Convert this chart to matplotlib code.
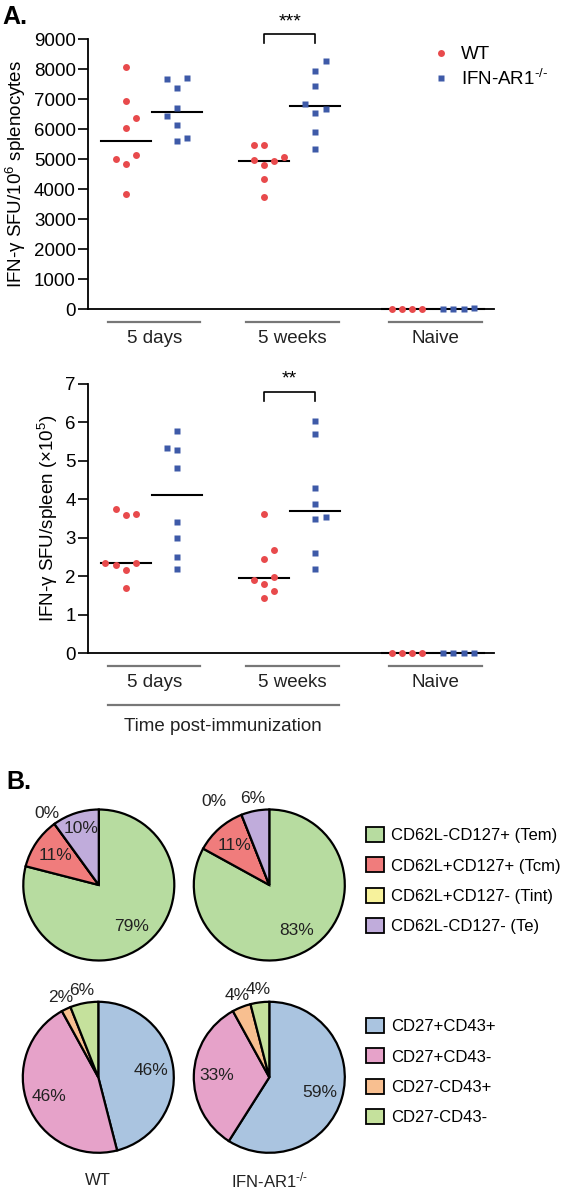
#!/usr/bin/env python3
"""Figure: IFN-gamma ELISPOT dot plots (A) and memory-subset pies (B)."""

import matplotlib
matplotlib.use("Agg")
import matplotlib.pyplot as plt
import matplotlib.transforms as mtransforms
from matplotlib.lines import Line2D
from matplotlib.patches import Patch
import numpy as np

plt.rcParams.update({
    "font.family": ["Liberation Sans", "DejaVu Sans"],
    "mathtext.fontset": "custom",
    "mathtext.rm": "Liberation Sans",
    "mathtext.it": "Liberation Sans:italic",
    "mathtext.bf": "Liberation Sans:bold",
})

W, H = 566, 1193
DPI = 100

# ---- panel A data ----------------------------------------------------------
GROUPS = ["5 days", "5 weeks", "Naive"]

# SFU / 10^6 splenocytes
WT_SPLENO = [
    [8057, 6947, 6381, 6048, 5138, 5005, 4838, 3840],
    [5471, 5471, 4971, 4794, 4927, 5071, 4328, 3751],
    [0, 0, 0, 0],
]
KO_SPLENO = [
    [7668, 7701, 7368, 6703, 6447, 6137, 5604, 5704],
    [8267, 7945, 7446, 6847, 6658, 6547, 5892, 5338],
    [0, 0, 0, 40],
]

# SFU / spleen (x10^5)
WT_SPLEEN = [
    [3.74, 3.60, 3.63, 2.35, 2.30, 2.34, 2.17, 1.71],
    [3.63, 2.68, 2.45, 1.99, 1.90, 1.81, 1.63, 1.45],
    [0, 0, 0, 0],
]
KO_SPLEEN = [
    [5.77, 5.33, 5.28, 4.81, 3.40, 3.01, 2.50, 2.18],
    [6.03, 5.70, 4.30, 3.87, 3.49, 3.53, 2.61, 2.18],
    [0, 0, 0, 0.02],
]

# horizontal scatter columns (in dot widths) -- layout only
WT_SPLENO_COL = [[0, 0, 1, 0, 1, -1, 0, 0], [-1, 0, -1, 0, 1, 2, 0, 0], [-1.5, -0.5, 0.5, 1.5]]
KO_SPLENO_COL = [[-1, 1, 0, 0, -1, 0, 0, 1], [1, 0, 0, -1, 1, 0, 0, 0], [-1.5, -0.5, 0.5, 1.5]]
WT_SPLEEN_COL = [[-1, 0, 1, -2, -1, 1, 0, 0], [0, 1, 0, 1, -1, 0, 1, 0], [-1.5, -0.5, 0.5, 1.5]]
KO_SPLEEN_COL = [[0, -1, 0, 0, 0, 0, 0, 0], [0, 0, 0, 0, 0, 1, 0, 0], [-1.5, -0.5, 0.5, 1.5]]

# ---- panel B data ----------------------------------------------------------
MEM_LABELS = ["CD62L-CD127+ (Tem)", "CD62L+CD127+ (Tcm)",
              "CD62L+CD127- (Tint)", "CD62L-CD127- (Te)"]
MEM_WT = [79, 11, 0, 10]
MEM_KO = [83, 11, 0, 6]
MEM_COLORS = ["#b7dca0", "#f07c7c", "#f7f29c", "#c0acdb"]

CD_LABELS = ["CD27+CD43+", "CD27+CD43-", "CD27-CD43+", "CD27-CD43-"]
CD_WT = [46, 46, 2, 6]
CD_KO = [59, 33, 4, 4]
CD_COLORS = ["#aac4e0", "#e6a2c9", "#f8bf90", "#c5e19c"]

WT_COLOR = "#e84a4c"
KO_COLOR = "#3e5aa8"
UNDERLINE = "#777777"

GROUP_X = [2.5, 16.05, 30.1]   # pair centres, in dot widths
PAIR_HALF = 2.52
XLIM = (-3.7, 36.1)
KO_LABEL = r"IFN-AR1$^{\text{-/-}}$"


def px_axes(left, top, right, bottom):
    return [left / W, 1 - bottom / H, (right - left) / W, (bottom - top) / H]


def dot_panel(fig, rect, wt, ko, wt_col, ko_col, yticks, sig, sig_y, ylabel):
    ax = fig.add_axes(rect)
    for i, gx in enumerate(GROUP_X):
        for vals, cols, dx, color, mk, ms in (
            (wt[i], wt_col[i], -PAIR_HALF, WT_COLOR, "o", 5.0),
            (ko[i], ko_col[i], PAIR_HALF, KO_COLOR, "s", 4.6),
        ):
            x = gx + dx + np.array(cols)
            ax.plot(x, vals, ls="none", marker=mk, ms=ms, mfc=color, mec="none",
                    clip_on=False, zorder=4)
            med = np.median(vals)
            ax.plot([gx + dx - 2.45, gx + dx + 2.45], [med, med], color="black",
                    lw=1.5, clip_on=False, zorder=3)

    ax.set_xlim(*XLIM)
    ax.set_ylim(yticks[0], yticks[-1])
    ax.set_xticks([])
    ax.set_yticks(yticks)
    ax.spines["top"].set_visible(False)
    ax.spines["right"].set_visible(False)
    ax.spines["left"].set_linewidth(1.3)
    ax.spines["bottom"].set_linewidth(1.3)
    ax.tick_params(axis="y", length=7, width=1.2, pad=2, labelsize=13.5)
    ax.set_ylabel(ylabel, fontsize=13.5, labelpad=4)

    # significance bracket over 5 weeks
    gx = GROUP_X[1]
    top, leg, star_y = sig_y
    ax.plot([gx - PAIR_HALF, gx - PAIR_HALF, gx + PAIR_HALF, gx + PAIR_HALF],
            [leg, top, top, leg], color="black", lw=1.2, clip_on=False)
    ax.text(gx, star_y, sig, ha="center", va="center", fontsize=14, clip_on=False)

    # group underlines + labels
    trans = mtransforms.blended_transform_factory(ax.transData, ax.transAxes)
    for gx, name in zip(GROUP_X, GROUPS):
        c = gx + 0.27
        ax.plot([c - 4.53, c + 4.53], [-0.048, -0.048], color=UNDERLINE, lw=1.6,
                transform=trans, clip_on=False)
        ax.text(c, -0.108, name, ha="center", va="center", fontsize=13.5,
                color="#222222", transform=trans)
    return ax, trans


def pie_panel(fig, cx, cy, values, colors, nudge=None):
    r = 75.5
    ax = fig.add_axes(px_axes(cx - r, cy - r, cx + r, cy + r))
    wedges, _ = ax.pie(values, colors=colors, startangle=90, counterclock=False,
                       radius=1, wedgeprops={"edgecolor": "black", "linewidth": 1.6})
    for i, (w, v) in enumerate(zip(wedges, values)):
        ang = (w.theta1 + w.theta2) / 2
        dist = 0.7 if v >= 10 else 1.17
        if v == 10:
            dist = 0.78
        if nudge and i in nudge:
            ang += nudge[i][0]
            dist = nudge[i][1]
        a = np.deg2rad(ang)
        ax.text(dist * np.cos(a), dist * np.sin(a), f"{v}%", ha="center",
                va="center", fontsize=12.5, color="#222222")
    ax.set_xlim(-1, 1)
    ax.set_ylim(-1, 1)
    ax.set_aspect("equal")
    ax.axis("off")
    return ax


def main():
    fig = plt.figure(figsize=(W / DPI, H / DPI), dpi=DPI)

    ax1, _ = dot_panel(fig, px_axes(88.3, 39, 494, 309.3), WT_SPLENO, KO_SPLENO,
                       WT_SPLENO_COL, KO_SPLENO_COL, np.arange(0, 9001, 1000), "***",
                       (9177, 8867, 9560),
                       "IFN-γ SFU/10$^{6}$ splenocytes")
    ax2, trans2 = dot_panel(fig, px_axes(88.3, 384, 494, 653.3), WT_SPLEEN, KO_SPLEEN,
                            WT_SPLEEN_COL, KO_SPLEEN_COL, np.arange(0, 8), "**",
                            (6.80, 6.56, 7.12),
                            "IFN-γ SFU/spleen (×10$^{5}$)")

    # time post-immunization bracket line
    x0 = GROUP_X[0] + 0.27 - 4.53
    x1 = GROUP_X[1] + 0.27 + 4.53
    ax2.plot([x0, x1], [-0.192, -0.192], color=UNDERLINE, lw=1.6,
             transform=trans2, clip_on=False)
    ax2.text((x0 + x1) / 2, -0.27, "Time post-immunization", ha="center",
             va="center", fontsize=13.5, color="#222222", transform=trans2)

    # legend A
    handles = [
        Line2D([], [], ls="none", marker="o", ms=5.0, mfc=WT_COLOR, mec="none"),
        Line2D([], [], ls="none", marker="s", ms=4.6, mfc=KO_COLOR, mec="none"),
    ]
    fig.legend(handles, ["WT", KO_LABEL], loc="upper left",
               bbox_to_anchor=(432 / W, 1 - 46 / H), frameon=False,
               fontsize=13.5, handlelength=1.0, handletextpad=0.55,
               labelspacing=0.3, borderpad=0, borderaxespad=0)

    # panel B pies
    pie_panel(fig, 98.8, 885, MEM_WT, MEM_COLORS)
    pie_panel(fig, 269.3, 885, MEM_KO, MEM_COLORS, nudge={2: (12, 1.33)})
    pie_panel(fig, 98.3, 1077.3, CD_WT, CD_COLORS)
    pie_panel(fig, 269.3, 1077.3, CD_KO, CD_COLORS)

    for labels, colors, top in ((MEM_LABELS, MEM_COLORS, 827), (CD_LABELS, CD_COLORS, 1018)):
        fig.legend([Patch(facecolor=c, edgecolor="black", linewidth=1.3) for c in colors],
                   labels, loc="upper left", bbox_to_anchor=(366 / W, 1 - top / H),
                   frameon=False, fontsize=12, handlelength=1.08, handleheight=1.0,
                   handletextpad=0.4, labelspacing=0.85, borderpad=0, borderaxespad=0)

    fig.text(98 / W, 1 - 1180.7 / H, "WT", ha="center", va="center", fontsize=12,
             color="#222222")
    fig.text(270 / W, 1 - 1180.7 / H, KO_LABEL, ha="center", va="center",
             fontsize=12, color="#222222")

    fig.text(2 / W, 1 - 17 / H, "A.", ha="left", va="center", fontsize=18,
             fontweight="bold")
    fig.text(6 / W, 1 - 782 / H, "B.", ha="left", va="center", fontsize=18,
             fontweight="bold")

    fig.savefig("out.png", dpi=DPI)
    plt.close(fig)


if __name__ == "__main__":
    main()
